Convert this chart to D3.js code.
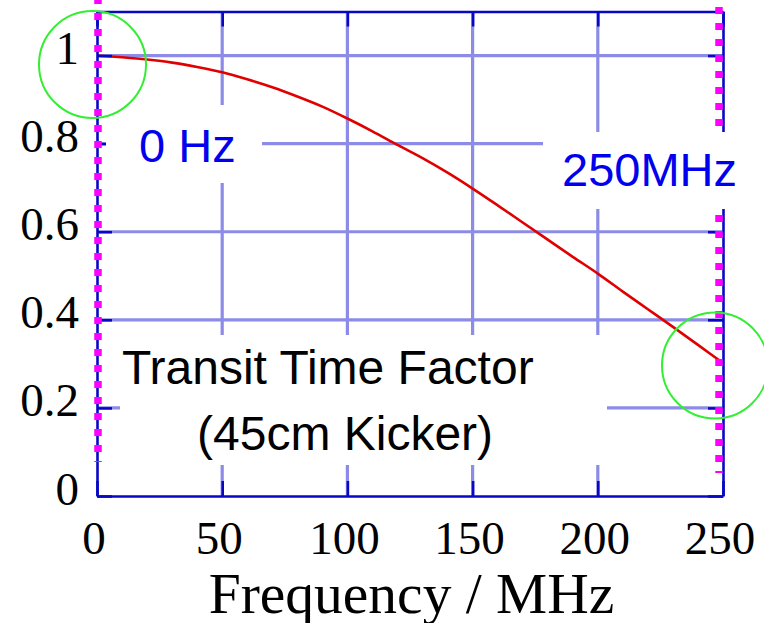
<!DOCTYPE html>
<html>
<head>
<meta charset="utf-8">
<script src="https://cdn.jsdelivr.net/npm/d3@7"></script>
<style>
  html, body { margin: 0; padding: 0; background: #ffffff; }
  svg { display: block; }
</style>
</head>
<body>
<svg id="chart" width="764" height="623"></svg>
<script>
// ---- data ----
const freq   = [0, 10, 20, 30, 40, 50, 60, 70, 80, 90, 100, 110, 120, 130, 140, 150, 160, 170, 180, 190, 200, 210, 220, 230, 240, 250];
const factor = [1.000, 0.996, 0.991, 0.984, 0.974, 0.962, 0.946, 0.928, 0.907, 0.884, 0.857, 0.828, 0.797, 0.767, 0.734, 0.698, 0.660, 0.621, 0.582, 0.543, 0.505, 0.464, 0.424, 0.384, 0.343, 0.302];
const xTicks = [0, 50, 100, 150, 200, 250];
const yTicks = [0, 0.2, 0.4, 0.6, 0.8, 1.0];
const yTickLabels = ["0", "0.2", "0.4", "0.6", "0.8", "1"];
const markerFreqs = [0, 250];
const markerLabels = ["0 Hz", "250MHz"];
const noteLines = ["Transit Time Factor", "(45cm Kicker)"];
const xTitle = "Frequency / MHz";

// ---- layout ----
const L = 97, R = 723, T = 11.5, B = 496;
const svg = d3.select("#chart");
svg.append("rect").attr("width", 764).attr("height", 623).attr("fill", "#ffffff");

const x = d3.scaleLinear().domain([0, 250]).range([L, R]);
const y = d3.scaleLinear().domain([0, 1.1]).range([B, T]);

const GRID = "#8c8ce8", AX = "#0808c4";

// gridlines
svg.append("g").selectAll("line").data(xTicks.slice(1, -1)).join("line")
  .attr("x1", d => x(d)).attr("x2", d => x(d)).attr("y1", T).attr("y2", B)
  .attr("stroke", GRID).attr("stroke-width", 3.2);
svg.append("g").selectAll("line").data(yTicks.slice(1)).join("line")
  .attr("x1", L).attr("x2", R).attr("y1", d => y(d)).attr("y2", d => y(d))
  .attr("stroke", GRID).attr("stroke-width", 3.2);

// curve
const line = d3.line().x((d, i) => x(freq[i])).y(d => y(d)).curve(d3.curveMonotoneX);
svg.append("path").datum(factor)
  .attr("d", line).attr("fill", "none")
  .attr("stroke", "#e00000").attr("stroke-width", 2.6).attr("stroke-linejoin", "round");

// axes (ticks point inward)
function styleAxis(g) {
  g.selectAll(".domain").attr("stroke", AX).attr("stroke-width", 2.6);
  g.selectAll(".tick line").attr("stroke", AX).attr("stroke-width", 2.6);
}
const serif = "'Liberation Serif', 'Times New Roman', serif";

const gBottom = svg.append("g").attr("transform", `translate(0,${B})`)
  .call(d3.axisBottom(x).tickValues(xTicks).tickSize(-15).tickSizeOuter(0).tickPadding(24.6).tickFormat(d3.format("d")));
const gTop = svg.append("g").attr("transform", `translate(0,${T})`)
  .call(d3.axisTop(x).tickValues(xTicks).tickSize(-15).tickSizeOuter(0).tickFormat(""));
const gLeft = svg.append("g").attr("transform", `translate(${L},0)`)
  .call(d3.axisLeft(y).tickValues(yTicks).tickSize(-15).tickSizeOuter(0).tickPadding(18).tickFormat((d, i) => yTickLabels[i]));
const gRight = svg.append("g").attr("transform", `translate(${R},0)`)
  .call(d3.axisRight(y).tickValues(yTicks).tickSize(-15).tickSizeOuter(0).tickFormat(""));
[gBottom, gTop, gLeft, gRight].forEach(styleAxis);

gBottom.selectAll(".tick text")
  .attr("font-family", serif).attr("font-size", 47).attr("fill", "#000")
  .attr("x", -3.5);
gLeft.selectAll(".tick text")
  .attr("font-family", serif).attr("font-size", 47).attr("fill", "#000")
  .attr("dy", 8);
[gBottom, gTop, gLeft, gRight].forEach(g => g.attr("font-family", null).attr("font-size", null));

// magenta dotted markers at 0 Hz and 250 MHz
const markerOffsets = [1, -4];
const markerSpans = [[-3, 462], [7, 473]];
svg.append("g").selectAll("line").data(markerFreqs).join("line")
  .attr("x1", (d, i) => x(d) + markerOffsets[i]).attr("x2", (d, i) => x(d) + markerOffsets[i])
  .attr("y1", (d, i) => markerSpans[i][0]).attr("y2", (d, i) => markerSpans[i][1])
  .attr("stroke", "#ff00ff").attr("stroke-width", 7.5).attr("stroke-dasharray", "7 9");

// white label boxes (cover grid)
const boxes = [[106, 105, 156, 78], [543, 132, 221, 77], [120, 335, 487, 130]];
svg.append("g").selectAll("rect").data(boxes).join("rect")
  .attr("x", d => d[0]).attr("y", d => d[1]).attr("width", d => d[2]).attr("height", d => d[3])
  .attr("fill", "#ffffff");

const sans = "'Liberation Sans', Arial, sans-serif";
const markerTextPos = [[139, 162], [562, 186]];
svg.append("g").selectAll("text").data(markerLabels).join("text")
  .attr("x", (d, i) => markerTextPos[i][0]).attr("y", (d, i) => markerTextPos[i][1])
  .attr("font-family", sans).attr("font-size", 47).attr("fill", "#0000ee")
  .text(d => d);

const notePos = [[122, 384], [197, 450]];
svg.append("g").selectAll("text").data(noteLines).join("text")
  .attr("x", (d, i) => notePos[i][0]).attr("y", (d, i) => notePos[i][1])
  .attr("font-family", sans).attr("font-size", 48).attr("fill", "#000")
  .text(d => d);

// axis title
svg.append("text").attr("x", 411.5).attr("y", 613)
  .attr("text-anchor", "middle").attr("font-family", serif).attr("font-size", 57.5)
  .attr("fill", "#000").text(xTitle);

// green highlight circles
const circles = [[92.5, 64.5, 53.5], [715, 365.5, 53]];
svg.append("g").selectAll("circle").data(circles).join("circle")
  .attr("cx", d => d[0]).attr("cy", d => d[1]).attr("r", d => d[2])
  .attr("fill", "none").attr("stroke", "#33ee33").attr("stroke-width", 2);
</script>
</body>
</html>
